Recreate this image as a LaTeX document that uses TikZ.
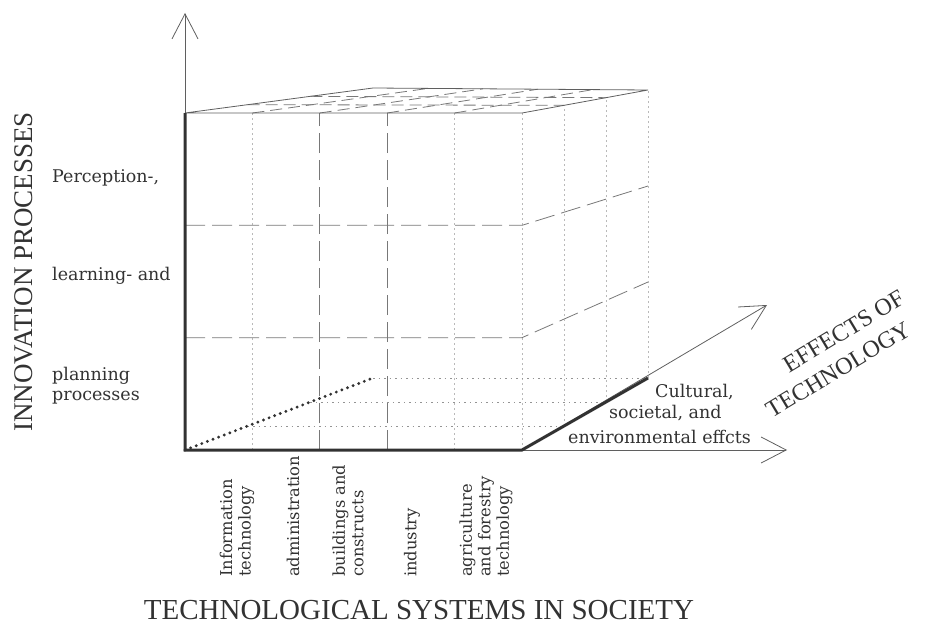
\documentclass[tikz,border=0pt]{standalone}
\usepackage{fontspec}
\setmainfont{DejaVu Serif}
\newfontfamily\titlefont{Liberation Serif}
\usepackage{tikz}
\usetikzlibrary{arrows.meta,calc}
\definecolor{inkgray}{RGB}{50,50,50}
\definecolor{linegray}{RGB}{95,95,95}
\definecolor{dashgray}{RGB}{120,120,120}
\definecolor{faintgray}{RGB}{185,185,185}
\tikzset{
  axisline/.style={-{Straight Barb[length=25pt,width=26pt]}, line width=0.8pt, draw=linegray},
  thickedge/.style={line width=3pt, draw=inkgray},
  rimline/.style={line width=0.8pt, draw=linegray},
  dashgrid/.style={line width=0.8pt, draw=dashgray, dash pattern=on 20pt off 7pt},
  topgrid/.style={line width=0.8pt, draw=dashgray, dash pattern=on 12pt off 6pt},
  faintgrid/.style={line width=0.7pt, draw=faintgray, dash pattern=on 2pt off 3pt},
  floorgrid/.style={line width=0.8pt, draw=dashgray!80, dash pattern=on 1.5pt off 4pt},
  dotdiag/.style={line width=3.2pt, draw=inkgray, dash pattern=on 0pt off 6pt, line cap=round},
  txt/.style={inner sep=0pt, text=inkgray, font=\fontsize{17.5}{20}\selectfont},
  collabel/.style={inner sep=0pt, text=inkgray, rotate=90, anchor=west, align=left, font=\fontsize{16.3}{18.5}\selectfont},
  heading/.style={inner sep=0pt, text=inkgray, font=\titlefont\fontsize{27}{30}\selectfont}
}

\begin{document}
\begin{tikzpicture}[x=1pt, y=-1pt]
\useasboundingbox (0,0) rectangle (927,642);
% corners of the cube
\coordinate (fbl) at (185,450);
\coordinate (fbr) at (522,450);
\coordinate (ftl) at (185,113);
\coordinate (ftr) at (522,113);
\coordinate (btl) at (373,88);
\coordinate (btr) at (648,90);
\coordinate (bbl) at (373,378);
\coordinate (bbr) at (648,378);
% axis ends
\coordinate (up) at (185,13);
\coordinate (right) at (787,450);
\coordinate (depth) at (767,305);

% front face
\foreach \i in {1,4}
  \draw[faintgrid] ($(fbl)!\i/5!(fbr)$) -- ($(ftl)!\i/5!(ftr)$);
\foreach \i in {2,3}
  \draw[dashgrid] ($(fbl)!\i/5!(fbr)$) -- ($(ftl)!\i/5!(ftr)$);
\draw[faintgrid] (fbr) -- (ftr);
\foreach \j in {1,2}
  \draw[dashgrid] ($(fbl)!\j/3!(ftl)$) -- ($(fbr)!\j/3!(ftr)$) -- ($(bbr)!\j/3!(btr)$);
% side face and floor
\foreach \k in {1,2,3}
  \draw[faintgrid] ($(fbr)!\k/3!(bbr)$) -- ($(ftr)!\k/3!(btr)$);
\foreach \k in {1,2,3}
  \draw[floorgrid] ($(fbl)!\k/3!(bbl)$) -- ($(fbr)!\k/3!(bbr)$);
% top face
\foreach \i in {1,...,4}
  \draw[topgrid] ($(ftl)!\i/5!(ftr)$) -- ($(btl)!\i/5!(btr)$);
\foreach \k in {1,2}
  \draw[topgrid] ($(ftl)!\k/3!(btl)$) -- ($(ftr)!\k/3!(btr)$);
\draw[rimline] (ftl) -- (btl) -- (btr) -- (ftr) -- cycle;

% axes
\draw[axisline] (fbl) -- (up);
\draw[axisline] (fbl) -- (right);
\draw[axisline] (fbr) -- (depth);
\draw[thickedge] (ftl) -- (fbl) -- (fbr) -- (bbr);
\draw[dotdiag] (fbl) -- (bbl);

% labels
\node[txt, anchor=base west] (per) at (52,182) {Perception-,};
\node[txt, anchor=base west] (lea) at (52,280) {learning- and};
\node[txt, anchor=west, align=left] (pla) at (52,386) {planning\\processes};
\node[txt, anchor=base west] (cul) at (655,397) {Cultural,};
\node[txt, anchor=base west] (soc) at (609,418) {societal, and};
\node[txt, anchor=base west] (env) at (568,443) {environmental effcts};

\node[collabel] (inf) at (237,577) {Information\\technology};
\node[collabel] (adm) at (293,577) {administration};
\node[collabel] (bui) at (348,577) {buildings and\\constructs};
\node[collabel] (ind) at (412,577) {industry};
\node[collabel] (agr) at (486,577) {agriculture\\and forestry\\technology};

\node[heading, rotate=31, anchor=south west, align=left, font=\titlefont\fontsize{24}{30}\selectfont] (eff) at (772,419) {\hspace*{38pt}EFFECTS OF\\TECHNOLOGY};
\node[heading, rotate=90] (inn) at (24,272) {INNOVATION PROCESSES};
\node[heading, font=\titlefont\fontsize{29}{32}\selectfont] (sys) at (419,610) {TECHNOLOGICAL SYSTEMS IN SOCIETY};
\end{tikzpicture}
\end{document}
